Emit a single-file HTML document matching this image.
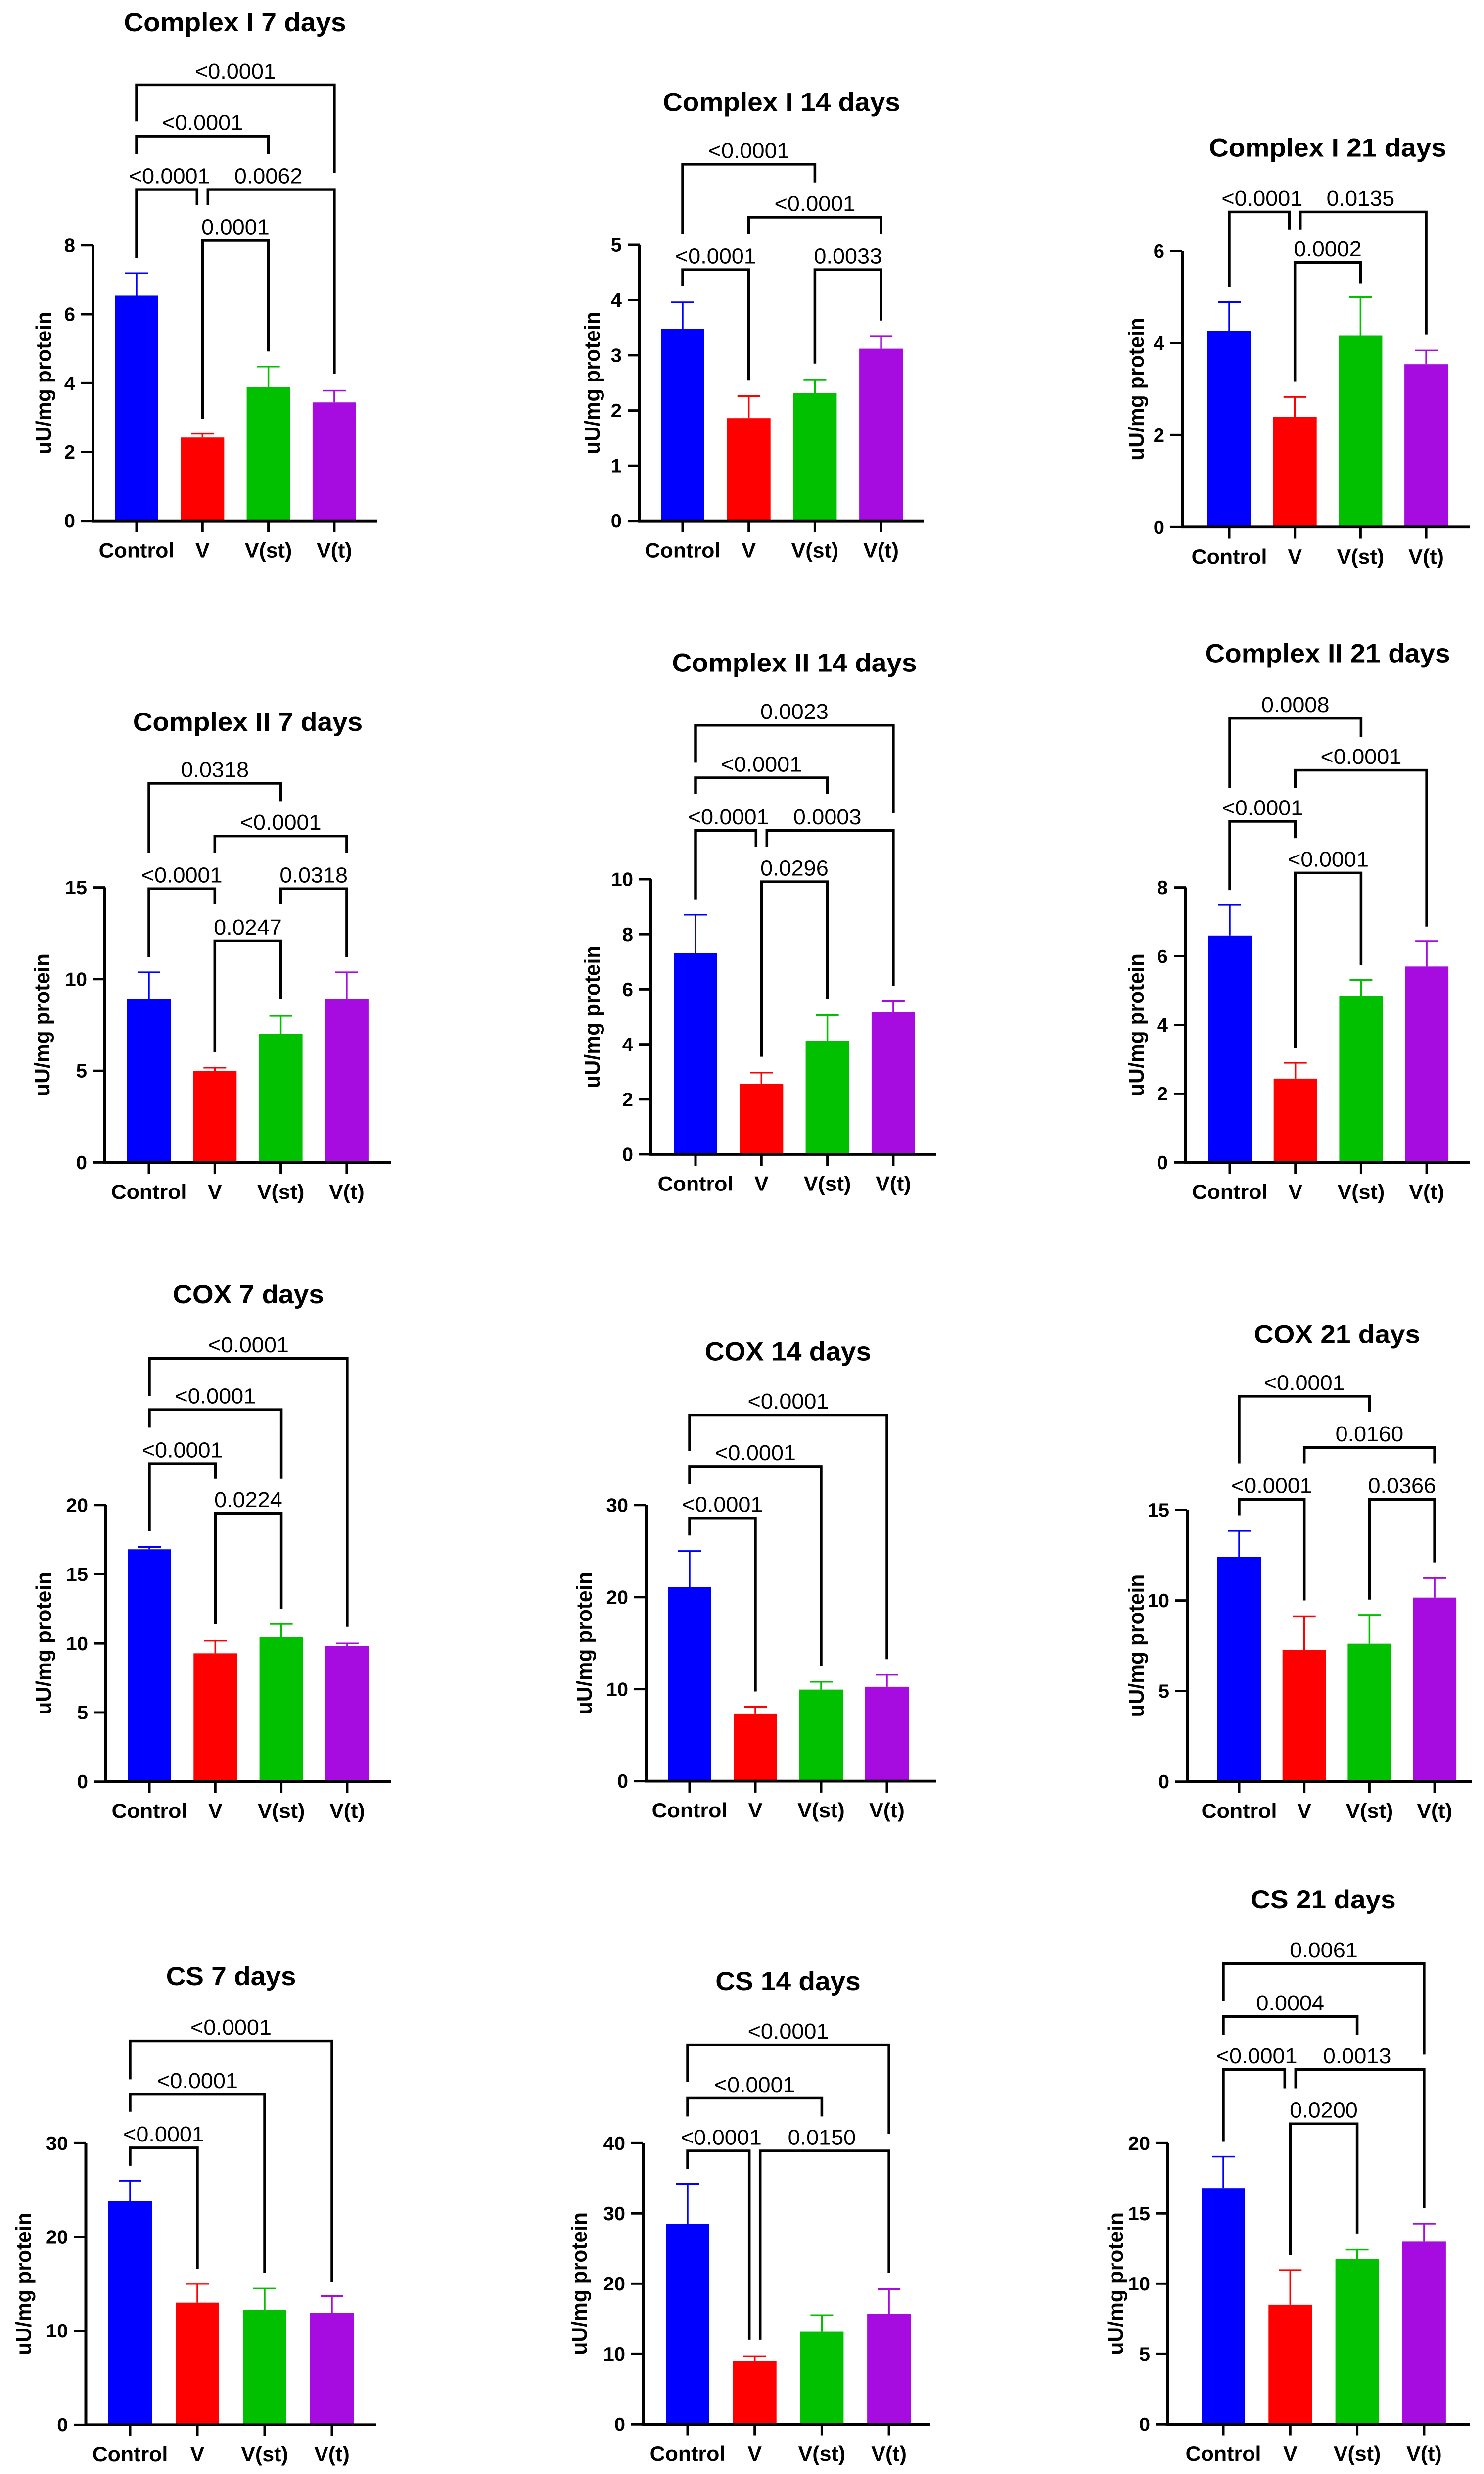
<!DOCTYPE html>
<html>
<head>
<meta charset="utf-8">
<style>
  html,body{margin:0;padding:0;background:#fff;overflow:hidden;}
  svg{display:block;width:100vw;height:100vh;}
  text{font-family:"Liberation Sans",Arial,sans-serif;}
</style>
</head>
<body>
<svg id="fig" xmlns="http://www.w3.org/2000/svg" viewBox="0 0 3000 5163" preserveAspectRatio="none"></svg>
<script>
// ---------- DATA ----------
const categories = ['Control','V','V(st)','V(t)'];
const barColors = ['#0000ff','#ff0000','#00c000','#a60ce0'];
const titles = ['Complex I 7 days','Complex I 14 days','Complex I 21 days',
  'Complex II 7 days','Complex II 14 days','Complex II 21 days',
  'COX 7 days','COX 14 days','COX 21 days',
  'CS 7 days','CS 14 days','CS 21 days'];
const yMax = [8,5,6,15,10,8,20,30,15,30,40,20];
const yStep = [2,1,2,5,2,2,5,10,5,10,10,5];
const means = [
  [6.54,2.42,3.88,3.44],
  [3.48,1.86,2.31,3.12],
  [4.27,2.40,4.16,3.54],
  [8.9,4.99,7.0,8.9],
  [7.32,2.56,4.12,5.17],
  [6.6,2.44,4.85,5.7],
  [16.8,9.28,10.45,9.83],
  [21.1,7.3,9.95,10.26],
  [12.4,7.28,7.62,10.16],
  [23.8,13.0,12.2,11.9],
  [28.5,9.0,13.15,15.7],
  [16.8,8.5,11.76,12.99]
];
const errTops = [
  [7.19,2.53,4.48,3.78],
  [3.96,2.26,2.56,3.34],
  [4.89,2.83,5.0,3.84],
  [10.37,5.17,8.0,10.37],
  [8.71,2.97,5.06,5.57],
  [7.49,2.9,5.31,6.44],
  [16.97,10.2,11.4,10.0],
  [25.0,8.07,10.8,11.56],
  [13.84,9.13,9.2,11.24],
  [26.0,15.0,14.5,13.7],
  [34.2,9.65,15.5,19.2],
  [19.04,10.96,12.42,14.27]
];
// [label, from, to, barTop, leftEnd, rightEnd, leftSide, rightSide]
const brackets = [
  [['<0.0001',0,3,12.66,11.6,10.1,0,0],['<0.0001',0,2,11.17,10.65,10.65,0,0],['<0.0001',0,1,9.62,7.63,9.17,0,-1],['0.0062',1,3,9.62,9.17,4.27,1,0],['0.0001',1,2,8.14,2.97,4.92,0,0]],
  [['<0.0001',0,2,6.46,5.2,6.13,0,0],['<0.0001',1,3,5.5,5.2,5.2,0,0],['<0.0001',0,1,4.55,4.25,2.55,0,0],['0.0033',2,3,4.55,2.85,3.63,0,0]],
  [['<0.0001',0,1,6.85,5.21,6.47,0,-1],['0.0135',1,3,6.85,6.47,4.18,1,0],['0.0002',1,2,5.75,3.16,5.3,0,0]],
  [['0.0318',0,2,20.68,16.9,19.7,0,0],['<0.0001',1,3,17.8,16.9,16.9,0,0],['<0.0001',0,1,14.93,11.2,14.07,0,0],['0.0318',2,3,14.93,14.07,11.2,0,0],['0.0247',1,2,12.09,6.03,8.9,0,0]],
  [['0.0023',0,3,15.6,14.24,12.4,0,0],['<0.0001',0,2,13.69,13.1,13.1,0,0],['<0.0001',0,1,11.77,9.27,11.18,0,-1],['0.0003',1,3,11.77,11.18,6.12,1,0],['0.0296',1,2,9.91,3.55,5.63,0,0]],
  [['0.0008',0,2,12.92,10.9,12.38,0,0],['<0.0001',1,3,11.41,10.9,6.86,0,0],['<0.0001',0,1,9.92,7.92,9.43,0,0],['<0.0001',1,2,8.42,3.33,5.74,0,0]],
  [['<0.0001',0,3,30.6,27.9,11.2,0,0],['<0.0001',0,2,26.9,25.6,21.9,0,0],['<0.0001',0,1,23.0,18.1,21.9,0,0],['0.0224',1,2,19.4,11.4,12.5,0,0]],
  [['<0.0001',0,3,39.8,35.9,13.25,0,0],['<0.0001',0,2,34.2,32.3,12.5,0,0],['<0.0001',0,1,28.6,26.7,9.74,0,0]],
  [['<0.0001',0,2,21.27,17.57,20.4,0,0],['0.0160',1,3,18.44,17.57,17.57,0,0],['<0.0001',0,1,15.58,14.7,10.0,0,0],['0.0366',2,3,15.58,10.05,12.1,0,0]],
  [['<0.0001',0,3,40.9,36.8,15.2,0,0],['<0.0001',0,2,35.2,33.35,16.2,0,0],['<0.0001',0,1,29.5,27.6,16.6,0,0]],
  [['<0.0001',0,3,54.0,48.7,41.3,0,0],['<0.0001',0,2,46.4,43.8,43.8,0,0],['<0.0001',0,1,38.9,36.3,12.0,0,-1],['0.0150',1,3,38.9,12.0,21.5,1,0]],
  [['0.0061',0,3,32.77,30.1,26.3,0,0],['0.0004',0,2,29.0,27.7,27.7,0,0],['<0.0001',0,1,25.24,20.1,23.9,0,-1],['0.0013',1,3,25.24,23.9,15.38,1,0],['0.0200',1,2,21.38,12.04,13.57,0,0]]
];

// ---------- LAYOUT (pixel geometry) ----------
// [axisX, baseY, topY, firstBarX, barSpacing, axisRight, titleX, titleY, ylabelOffset]
const layout = [
  [188,1087,512,276,133.3,762,475,65,-99],
  [1293,1087,511,1380,133.7,1867,1580,232,-95],
  [2390,1100,524,2485,132.7,2971,2684,327,-92],
  [212,2426,1852,301,133.3,790,501,1525,-126],
  [1316,2409,1835,1406,133.3,1893,1606,1402,-118],
  [2397,2426,1852,2486,132.7,2971,2684,1382,-99],
  [214,3718,3141,302,133.3,790,502,2720,-125],
  [1306,3717,3141,1394,133,1893,1593,2839,-124],
  [2400,3718,3151,2505,131.7,2975,2703,2803,-102],
  [173.5,5060,4472.5,263,136,760,467,4143,-125],
  [1300,5059,4472.5,1390,135.7,1880,1593,4153,-128],
  [2361,5059,4472.5,2473,135.3,2971,2675,3983,-105]
];

const NS='http://www.w3.org/2000/svg';
const svg=document.getElementById('fig');
function mk(tag,attrs,parent){const e=document.createElementNS(NS,tag);for(const k in attrs)e.setAttribute(k,attrs[k]);(parent||svg).appendChild(e);return e;}

const BAR_W=88, CAP_W=46, SHIFT=11;

layout.forEach((L,p)=>{
  const [ax,base,top,bx0,bdx,right,tx,ty,ylo]=L;
  const g=mk('g',{});
  
  
  const yS=v=>base-(v/yMax[p])*(base-top);
  const xS=i=>bx0+i*bdx;

  const t=mk('text',{x:tx,y:ty,'text-anchor':'middle','font-size':55,'font-weight':'bold',fill:'#000'},g);
  t.textContent=titles[p];
  
  

  means[p].forEach((v,i)=>{
    const r=mk('rect',{x:xS(i)-BAR_W/2,y:yS(v),width:BAR_W,height:base-yS(v),fill:barColors[i]},g);
    
    
    const e=mk('path',{d:`M${xS(i)},${yS(v)}V${yS(errTops[p][i])}M${xS(i)-CAP_W/2},${yS(errTops[p][i])}H${xS(i)+CAP_W/2}`,stroke:barColors[i],'stroke-width':3.5,fill:'none'},g);
    
    
  });

  const ya=mk('path',{d:`M${ax},${top}V${base}`,stroke:'#000','stroke-width':6,fill:'none'},g);
  
  
  const xa=mk('path',{d:`M${ax-3},${base}H${right}`,stroke:'#000','stroke-width':6,fill:'none'},g);
  
  
  for(let v=0;v<=yMax[p]+1e-9;v+=yStep[p]){
    const tk=mk('path',{d:`M${ax-24},${yS(v)}H${ax}`,stroke:'#000','stroke-width':5},g);
    
    
    const tl=mk('text',{x:ax-36,y:yS(v)+14,'text-anchor':'end','font-size':40,'font-weight':'bold'},g);
    tl.textContent=String(v);
    
    
  }
  categories.forEach((c,i)=>{
    const tk=mk('path',{d:`M${xS(i)},${base}V${base+24}`,stroke:'#000','stroke-width':5},g);
    
    
    const cl=mk('text',{x:xS(i),y:base+76,'text-anchor':'middle','font-size':43,'font-weight':'bold'},g);
    cl.textContent=c;
    
    
  });
  const ycx=ax+ylo, ycy=(top+base)/2;
  const yl=mk('text',{x:ycx,y:ycy,'text-anchor':'middle','dominant-baseline':'central','font-size':44,'font-weight':'bold',transform:`rotate(-90 ${ycx} ${ycy})`},g);
  yl.textContent='uU/mg protein';
  
  

  brackets[p].forEach(b=>{
    const [lab,i,j,bt,le,re,ls,rs]=b;
    const x1=xS(i)+ls*SHIFT, x2=xS(j)+rs*SHIFT, yt=yS(bt);
    const br=mk('path',{d:`M${x1},${yS(le)}V${yt}H${x2}V${yS(re)}`,stroke:'#000','stroke-width':5.5,fill:'none','stroke-linejoin':'miter'},g);
    
    
    const pl=mk('text',{x:(xS(i)+xS(j))/2,y:yt-13,'text-anchor':'middle','font-size':45,fill:'#000'},g);
    pl.textContent=lab;
    
    
  });
});
</script>
</body>
</html>
